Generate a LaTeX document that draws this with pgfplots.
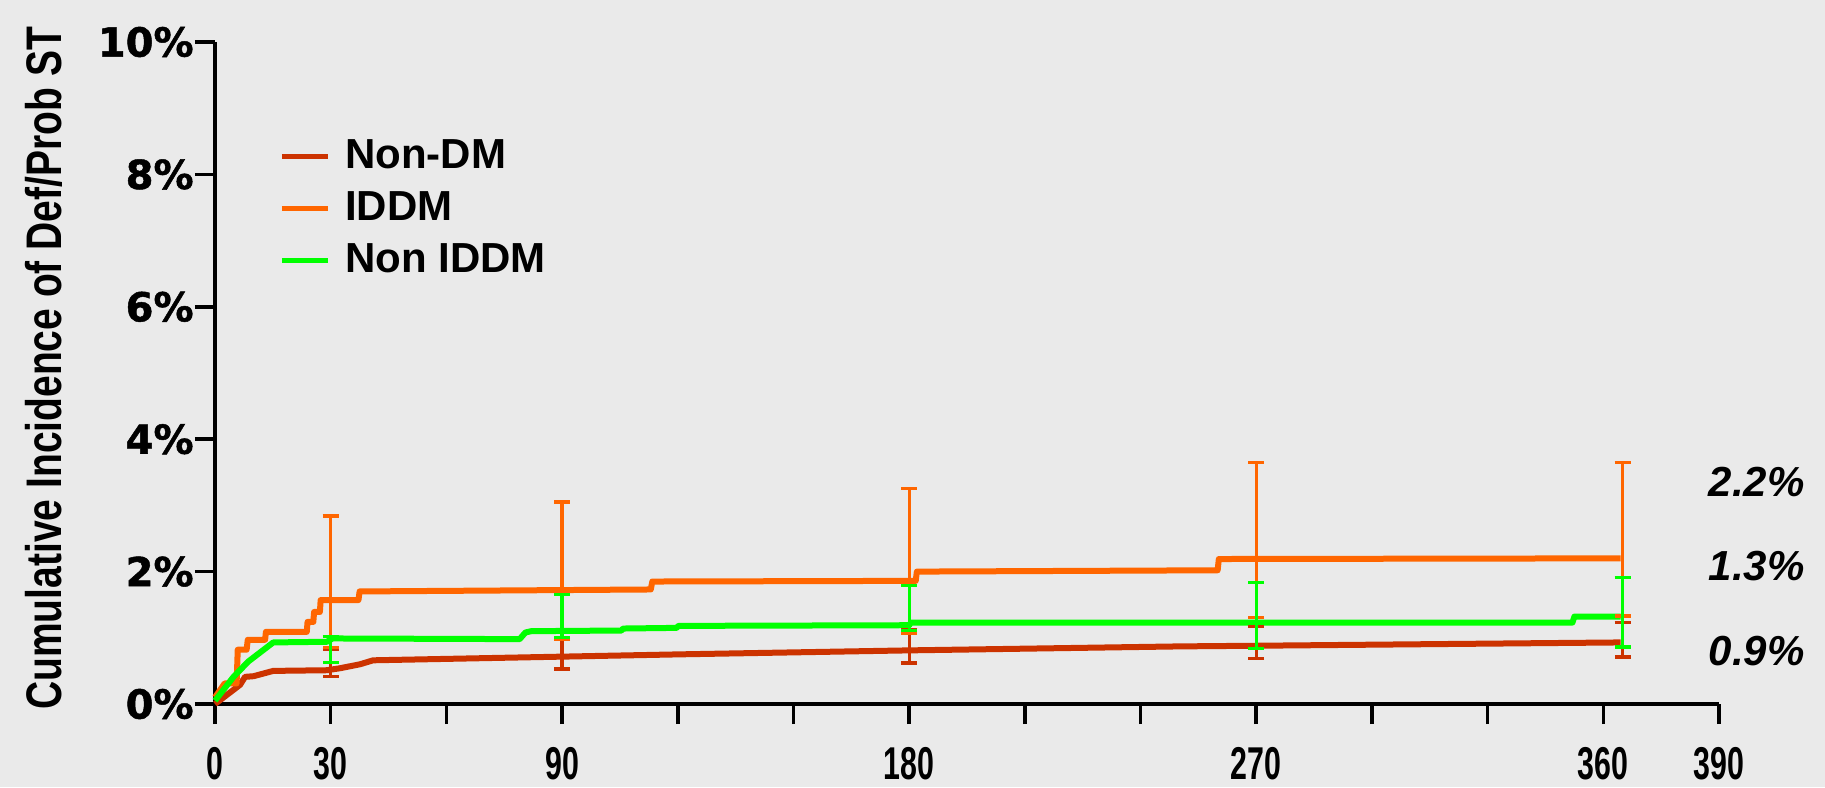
\documentclass[border=0pt]{standalone}
\usepackage{pgfplots}
\pgfplotsset{compat=1.18}
\usepackage{fontspec}
\setmainfont{Liberation Sans}
\newfontfamily\heavyfont{DejaVu Sans}[FakeBold=1.2]
\newfontfamily\narrowx{Liberation Sans}[FakeStretch=0.66]
\newfontfamily\narrowy{Liberation Sans}[FakeStretch=0.78]
\definecolor{bg}{HTML}{EAEAEA}
\definecolor{cNonDM}{HTML}{CC3300}
\definecolor{cIDDM}{HTML}{FF6600}
\definecolor{cNonIDDM}{HTML}{00FF00}
\begin{document}
\begin{tikzpicture}
\fill[bg] (-107.5pt,-41.5pt) rectangle (805pt,352pt);
\path[use as bounding box] (-107.5pt,-41.5pt) rectangle (805pt,352pt);
\begin{axis}[
  at={(0pt,0pt)}, anchor=south west,
  scale only axis, width=752pt, height=331pt,
  xmin=0, xmax=390, ymin=0, ymax=10,
  axis x line*=bottom, axis y line*=left,
  axis line style={-, line width=1.75pt, black},
  tick align=outside, major tick length=10pt,
  tick style={line width=1.75pt, black},
  xtick={0,30,...,390},
  xticklabels={0,30,{},90,{},{},180,{},{},270,{},{},360,390},
  ytick={0,2,...,10},
  yticklabels={0\%,2\%,4\%,6\%,8\%,10\%},
  xticklabel style={font=\narrowx\bfseries\fontsize{23pt}{27pt}\selectfont, inner sep=0pt, yshift=-11.5pt},
  yticklabel style={font=\heavyfont\bfseries\fontsize{20pt}{24pt}\selectfont, inner sep=0pt, xshift=-0.5pt},
  ylabel={Cumulative Incidence of Def/Prob ST},
  ylabel style={font=\narrowy\bfseries\fontsize{25pt}{29pt}\selectfont, at={(axis description cs:-0.114,0.507)}, anchor=center, inner sep=0pt},
  clip=false,
  legend cell align=left,
  legend style={draw=none, fill=none, at={(axis description cs:0.0385,0.748)}, anchor=west,
    font=\bfseries\fontsize{21pt}{25pt}\selectfont,
    nodes={inner sep=0pt, text height=15pt, text depth=3pt},
    row sep=8pt, column sep=7.5pt},
  legend image code/.code={\draw[#1, line width=2.5pt] (0pt,0pt) -- (23pt,0pt);},
]
% Non-DM
\addplot[cNonDM, line width=3pt, line join=round] coordinates {
(0,0) (6.5,0.29) (7.8,0.41) (10,0.42) (15.1,0.50) (29,0.51) (32.4,0.54) (37.6,0.60) (41,0.66)
(120.6,0.75) (180,0.81) (250,0.87) (270,0.88) (364.5,0.93)};
\addlegendentry{Non-DM}
% IDDM
\addplot[cIDDM, line width=3pt, line join=round] coordinates {
(0,0.1) (2.5,0.31) (5.6,0.31) (5.9,0.82) (8.2,0.82) (8.5,0.97) (13,0.97) (13.2,1.09)
(23.8,1.09) (24,1.24) (25.5,1.24) (25.7,1.39) (27.2,1.39) (27.4,1.57) (37.2,1.57) (37.5,1.70)
(113,1.73) (113.4,1.85) (181.7,1.86) (182,2.00) (260,2.02) (260.3,2.19) (364.5,2.20)};
\addlegendentry{IDDM}
% Non IDDM
\addplot[cNonIDDM, line width=3pt, line join=round] coordinates {
(0,0.05) (4.8,0.41) (8.6,0.64) (15.1,0.93) (29,0.94) (30.5,0.99) (79,0.98) (80.5,1.08) (82,1.10)
(105.4,1.11) (105.8,1.14) (119.7,1.15) (120.2,1.18) (180,1.19) (180.5,1.23) (352,1.23)
(352.5,1.32) (364.5,1.32)};
\addlegendentry{Non IDDM}
% error bars
\addplot[draw=none, forget plot, mark=none,
  error bars/.cd, y dir=both, y explicit,
  error bar style={draw=cNonDM, line width=1.6pt},
  error mark options={draw=cNonDM, line width=1.6pt, mark size=4pt, rotate=90}]
coordinates {
(30,0.51) += (0,0.31) -= (0,0.10)
(90,0.72) += (0,0.25) -= (0,0.19)
(180,0.81) += (0,0.32) -= (0,0.19)
(270,0.88) += (0,0.29) -= (0,0.19)
(365,0.93) += (0,0.30) -= (0,0.22)};
\addplot[draw=none, forget plot, mark=none,
  error bars/.cd, y dir=both, y explicit,
  error bar style={draw=cIDDM, line width=1.6pt},
  error mark options={draw=cIDDM, line width=1.6pt, mark size=4pt, rotate=90}]
coordinates {
(30,1.57) += (0,1.27) -= (0,0.72)
(90,1.72) += (0,1.33) -= (0,0.75)
(180,1.85) += (0,1.40) -= (0,0.78)
(270,2.19) += (0,1.46) -= (0,0.88)
(365,2.20) += (0,1.445) -= (0,0.87)};
\addplot[draw=none, forget plot, mark=none,
  error bars/.cd, y dir=both, y explicit,
  error bar style={draw=cNonIDDM, line width=1.6pt},
  error mark options={draw=cNonIDDM, line width=1.6pt, mark size=4pt, rotate=90}]
coordinates {
(30,0.94) += (0,0.08) -= (0,0.31)
(90,1.10) += (0,0.56) -= (0,0.09)
(180,1.19) += (0,0.60) -= (0,0.08)
(270,1.23) += (0,0.61) -= (0,0.39)
(365,1.32) += (0,0.59) -= (0,0.46)};
\node[anchor=base east, inner sep=0pt, font=\bfseries\itshape\fontsize{21pt}{24pt}\selectfont] at (axis cs:412.3,3.13) {2.2\%};
\node[anchor=base east, inner sep=0pt, font=\bfseries\itshape\fontsize{21pt}{24pt}\selectfont] at (axis cs:412.3,1.863) {1.3\%};
\node[anchor=base east, inner sep=0pt, font=\bfseries\itshape\fontsize{21pt}{24pt}\selectfont] at (axis cs:412.3,0.589) {0.9\%};
\end{axis}
\end{tikzpicture}
\end{document}
